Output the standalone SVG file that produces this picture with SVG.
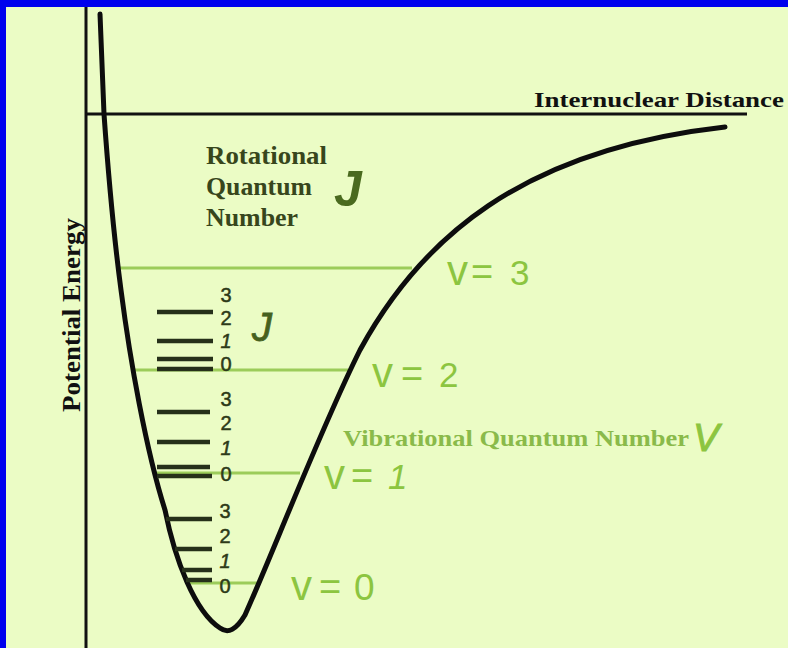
<svg xmlns="http://www.w3.org/2000/svg" width="788" height="648" viewBox="0 0 788 648">
<style>
.serif{font-family:"Liberation Serif","Times New Roman",serif;font-weight:bold}
.dark{fill:#37461c}
.vlab{font-family:"Liberation Sans",Arial,sans-serif;font-size:35px;fill:#8cc540}
.vv{font-size:42px}
.eq{font-size:38px}
.digit{font-family:"Liberation Sans",Arial,sans-serif;font-size:20px;fill:#2d3a18;text-anchor:middle;stroke:#2d3a18;stroke-width:0.5}
.it{font-style:italic}
.bar{stroke:#26301a;stroke-width:4.5;stroke-linecap:butt}
.vline{stroke:#9ccc5a;stroke-width:3}
.axis{stroke:#111;stroke-width:3;fill:none}
</style>
<rect x="0" y="0" width="788" height="648" fill="#0000ee"/>
<rect x="6" y="7" width="782" height="641" fill="#ebfcc5"/>

<g id="axes">
<line class="axis" x1="86" y1="7" x2="86" y2="648"/>
<line class="axis" x1="85" y1="114" x2="747" y2="114"/>
<text class="serif" x="534" y="107" font-size="22" fill="#111" textLength="250" lengthAdjust="spacingAndGlyphs">Internuclear Distance</text>
<text class="serif" x="0" y="0" font-size="25" fill="#111" textLength="194" lengthAdjust="spacingAndGlyphs" transform="translate(80,412) rotate(-90)">Potential Energy</text>
</g>

<g id="vib-levels">
<line class="vline" x1="118" y1="268" x2="412" y2="268"/>
<line class="vline" x1="133" y1="370" x2="348" y2="370"/>
<line class="vline" x1="156" y1="473" x2="300" y2="473"/>
<line class="vline" x1="190" y1="583" x2="258" y2="583"/>
</g>

<g id="potential-curve">
<path d="M100,14 L104,114 C108,170 113,230 121,290 C130,360 146,450 165,510 C175,560 195,612 220,628 C228,634 236,630 245,615 C270,560 320,430 360,350 C420,240 520,150 725,127" fill="none" stroke="#0d0d0d" stroke-width="5" stroke-linecap="round" stroke-linejoin="round"/>
</g>

<g id="rot-v2">
<line class="bar" x1="157" y1="312" x2="213" y2="312"/>
<line class="bar" x1="157" y1="341" x2="213" y2="341"/>
<line class="bar" x1="157" y1="359" x2="213" y2="359"/>
<line class="bar" x1="157" y1="369" x2="213" y2="369"/>
<text class="digit" x="226" y="302">3</text>
<text class="digit" x="226" y="325">2</text>
<text class="digit it" x="226" y="348">1</text>
<text class="digit" x="226" y="371">0</text>
<text x="252" y="341" font-family="Liberation Sans,Arial,sans-serif" font-size="40" font-style="italic" fill="#46611e" stroke="#46611e" stroke-width="0.8">J</text>
</g>

<g id="rot-v1">
<line class="bar" x1="157" y1="412" x2="210" y2="412"/>
<line class="bar" x1="157" y1="442" x2="210" y2="442"/>
<line class="bar" x1="157" y1="467" x2="210" y2="467"/>
<line class="bar" x1="157" y1="476" x2="212" y2="476"/>
<text class="digit" x="226" y="406">3</text>
<text class="digit" x="226" y="430">2</text>
<text class="digit it" x="226" y="455">1</text>
<text class="digit" x="226" y="481">0</text>
</g>

<g id="rot-v0">
<line class="bar" x1="166" y1="519" x2="212" y2="519"/>
<line class="bar" x1="175" y1="549" x2="212" y2="549"/>
<line class="bar" x1="182" y1="570" x2="212" y2="570"/>
<line class="bar" x1="186" y1="580" x2="212" y2="580"/>
<text class="digit" x="225" y="518">3</text>
<text class="digit" x="225" y="543">2</text>
<text class="digit it" x="225" y="568">1</text>
<text class="digit" x="225" y="593">0</text>
</g>

<g id="vib-labels">
<text class="vlab" y="285"><tspan class="vv" x="447">v</tspan><tspan class="eq" x="471">=</tspan><tspan x="510">3</tspan></text>
<text class="vlab" y="387"><tspan class="vv" x="372">v</tspan><tspan class="eq" x="401">=</tspan><tspan x="439">2</tspan></text>
<text class="vlab" y="489"><tspan class="vv" x="324">v</tspan><tspan class="eq" x="351">=</tspan><tspan class="it" x="388">1</tspan></text>
<text class="vlab" y="600"><tspan class="vv" x="291">v</tspan><tspan class="eq" x="319">=</tspan><tspan x="354" font-size="37">0</tspan></text>
</g>

<g id="rotational-label">
<text class="serif dark" x="206" y="164" font-size="25" textLength="121" lengthAdjust="spacingAndGlyphs">Rotational</text>
<text class="serif dark" x="206" y="195" font-size="25" textLength="106" lengthAdjust="spacingAndGlyphs">Quantum</text>
<text class="serif dark" x="206" y="226" font-size="25" textLength="92" lengthAdjust="spacingAndGlyphs">Number</text>
<text x="334" y="206" font-family="Liberation Sans,Arial,sans-serif" font-size="50" font-weight="bold" font-style="italic" fill="#4a6a1f">J</text>
</g>

<g id="vibrational-label">
<text class="serif" x="343" y="446" font-size="24" fill="#8aba4a" textLength="346" lengthAdjust="spacingAndGlyphs">Vibrational Quantum Number</text>
<text x="693" y="451" font-family="Liberation Sans,Arial,sans-serif" font-size="39" font-style="italic" fill="#8cc540" stroke="#8cc540" stroke-width="1">V</text>
</g>
</svg>
